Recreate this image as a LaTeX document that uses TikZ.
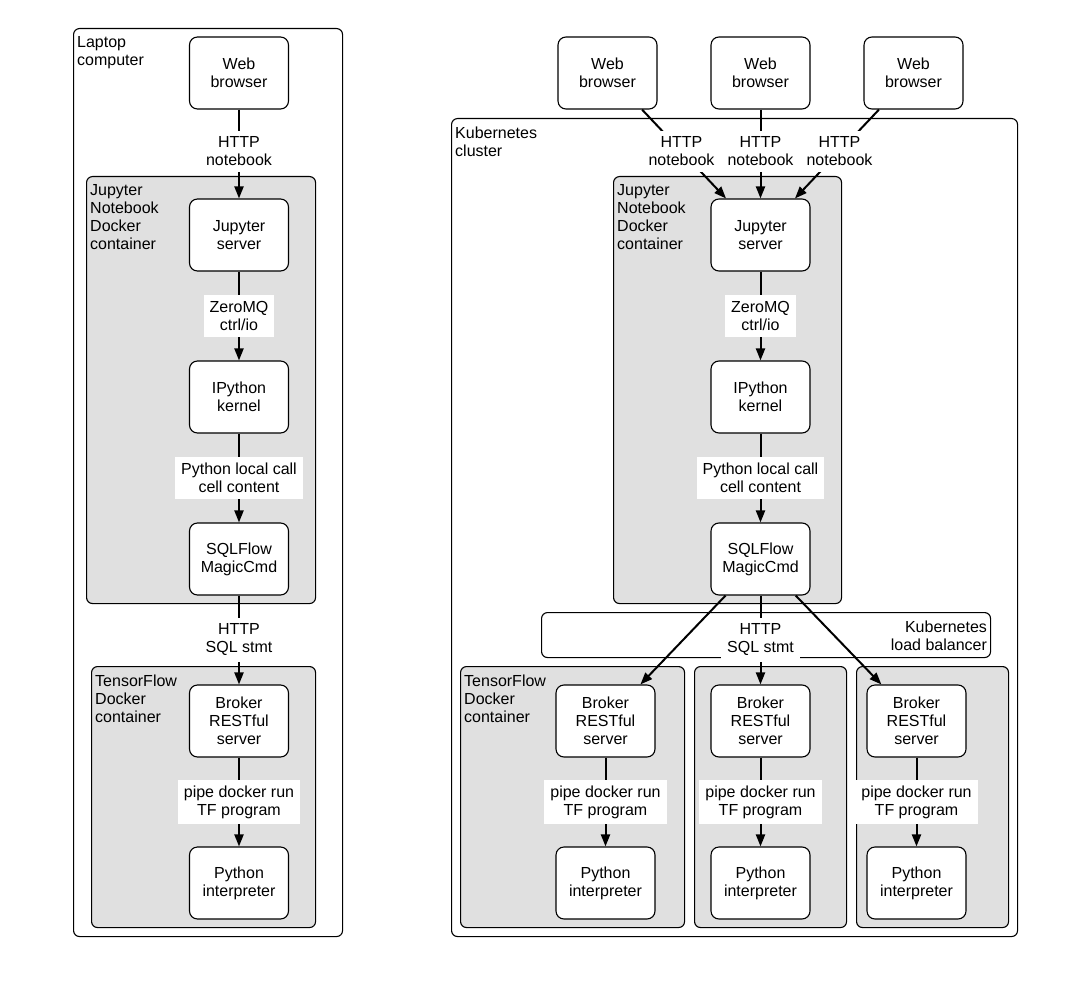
\documentclass[tikz,border=0pt]{standalone}
\usepackage{fontspec}
\setmainfont{Liberation Sans}
\usetikzlibrary{positioning, shapes, arrows.meta, calc}
\definecolor{boxgray}{RGB}{224,224,224}
\tikzset{
  unit/.style={draw, line width=1.1pt, rounded corners=8pt, fill=white, minimum width=99pt, minimum height=72pt, align=center},
  group/.style={draw, line width=1.1pt, rounded corners=6pt, inner sep=0pt, anchor=north west},
  tag/.style={align=left, inner sep=3pt, anchor=north west},
  lbl/.style={fill=white, align=center, inner sep=6pt},
  conn/.style={line width=2pt, -{Triangle[length=12pt,width=9pt]}}
}

\begin{document}
\begin{tikzpicture}[x=1pt, y=-1pt, font=\fontsize{16}{18}\selectfont]
\useasboundingbox (0,0) rectangle (1089,1008);

% Groups
\node[group, minimum width=269pt, minimum height=908pt] (laptop) at (73,28) {};
\node[group, fill=boxgray, minimum width=229pt, minimum height=427pt] (jupboxL) at (86,176) {};
\node[group, fill=boxgray, minimum width=224pt, minimum height=261pt] (tfboxL) at (91,666) {};
\node[group, minimum width=566pt, minimum height=818pt] (cluster) at (451,118) {};
\node[group, fill=boxgray, minimum width=228pt, minimum height=427pt] (jupbox) at (613,176) {};
\node[group, minimum width=449pt, minimum height=45pt] (lb) at (541,612) {};
\node[group, fill=boxgray, minimum width=224pt, minimum height=261pt] (tfbox1) at (460,666) {};
\node[group, fill=boxgray, minimum width=152pt, minimum height=261pt] (tfbox2) at (694,666) {};
\node[group, fill=boxgray, minimum width=152pt, minimum height=261pt] (tfbox3) at (856,666) {};

\node[tag] at ($(laptop.north west)+(1,5.5)$) {Laptop\\computer};
\node[tag] at ($(jupboxL.north west)+(1,5.5)$) {Jupyter\\Notebook\\Docker\\container};
\node[tag] at ($(tfboxL.north west)+(1,5.5)$) {TensorFlow\\Docker\\container};
\node[tag] at ($(cluster.north west)+(1,5.5)$) {Kubernetes\\cluster};
\node[tag] at ($(jupbox.north west)+(1,5.5)$) {Jupyter\\Notebook\\Docker\\container};
\node[tag] at ($(tfbox1.north west)+(1,5.5)$) {TensorFlow\\Docker\\container};
\node[tag, anchor=north east, align=right] at ($(lb.north east)+(-1,5.5)$) {Kubernetes\\load balancer};

% Nodes
\node[unit] (webL) at (239,73) {Web\\browser};
\node[unit] (jupL) at (239,235) {Jupyter\\server};
\node[unit] (kerL) at (239,397) {IPython\\kernel};
\node[unit] (magicL) at (239,559) {SQLFlow\\MagicCmd};
\node[unit] (brokerL) at (239,721) {Broker\\RESTful\\server};
\node[unit] (pyL) at (239,883) {Python\\interpreter};

\foreach \n/\x in {1/607.5,2/760.5,3/913.5}
  \node[unit] (web\n) at (\x,73) {Web\\browser};
\node[unit] (jup) at (760.5,235) {Jupyter\\server};
\node[unit] (ker) at (760.5,397) {IPython\\kernel};
\node[unit] (magic) at (760.5,559) {SQLFlow\\MagicCmd};
\foreach \n/\x in {1/605.5,2/760.5,3/916.5} {
  \node[unit] (broker\n) at (\x,721) {Broker\\RESTful\\server};
  \node[unit] (py\n) at (\x,883) {Python\\interpreter};
}

% Arrows
\draw[conn] (webL) -- node[lbl, pos=0.47] {HTTP\\notebook} (jupL);
\draw[conn] (jupL) -- node[lbl] {ZeroMQ\\ctrl/io} (kerL);
\draw[conn] (kerL) -- node[lbl] {Python local call\\cell content} (magicL);
\draw[conn] (magicL) -- node[lbl] {HTTP\\SQL stmt} (brokerL);
\draw[conn] (brokerL) -- node[lbl] {pipe docker run\\TF program} (pyL);

\foreach \n in {1,2,3}
  \draw[conn] (web\n) -- node[lbl, pos=0.47] {HTTP\\notebook} (jup);
\draw[conn] (jup) -- node[lbl] {ZeroMQ\\ctrl/io} (ker);
\draw[conn] (ker) -- node[lbl] {Python local call\\cell content} (magic);
\draw[conn] (magic) -- (broker1);
\draw[conn] (magic) -- (broker3);
\draw[conn] (magic) -- node[lbl] {HTTP\\SQL stmt} (broker2);
\foreach \n in {1,2,3}
  \draw[conn] (broker\n) -- node[lbl] {pipe docker run\\TF program} (py\n);
\end{tikzpicture}
\end{document}
